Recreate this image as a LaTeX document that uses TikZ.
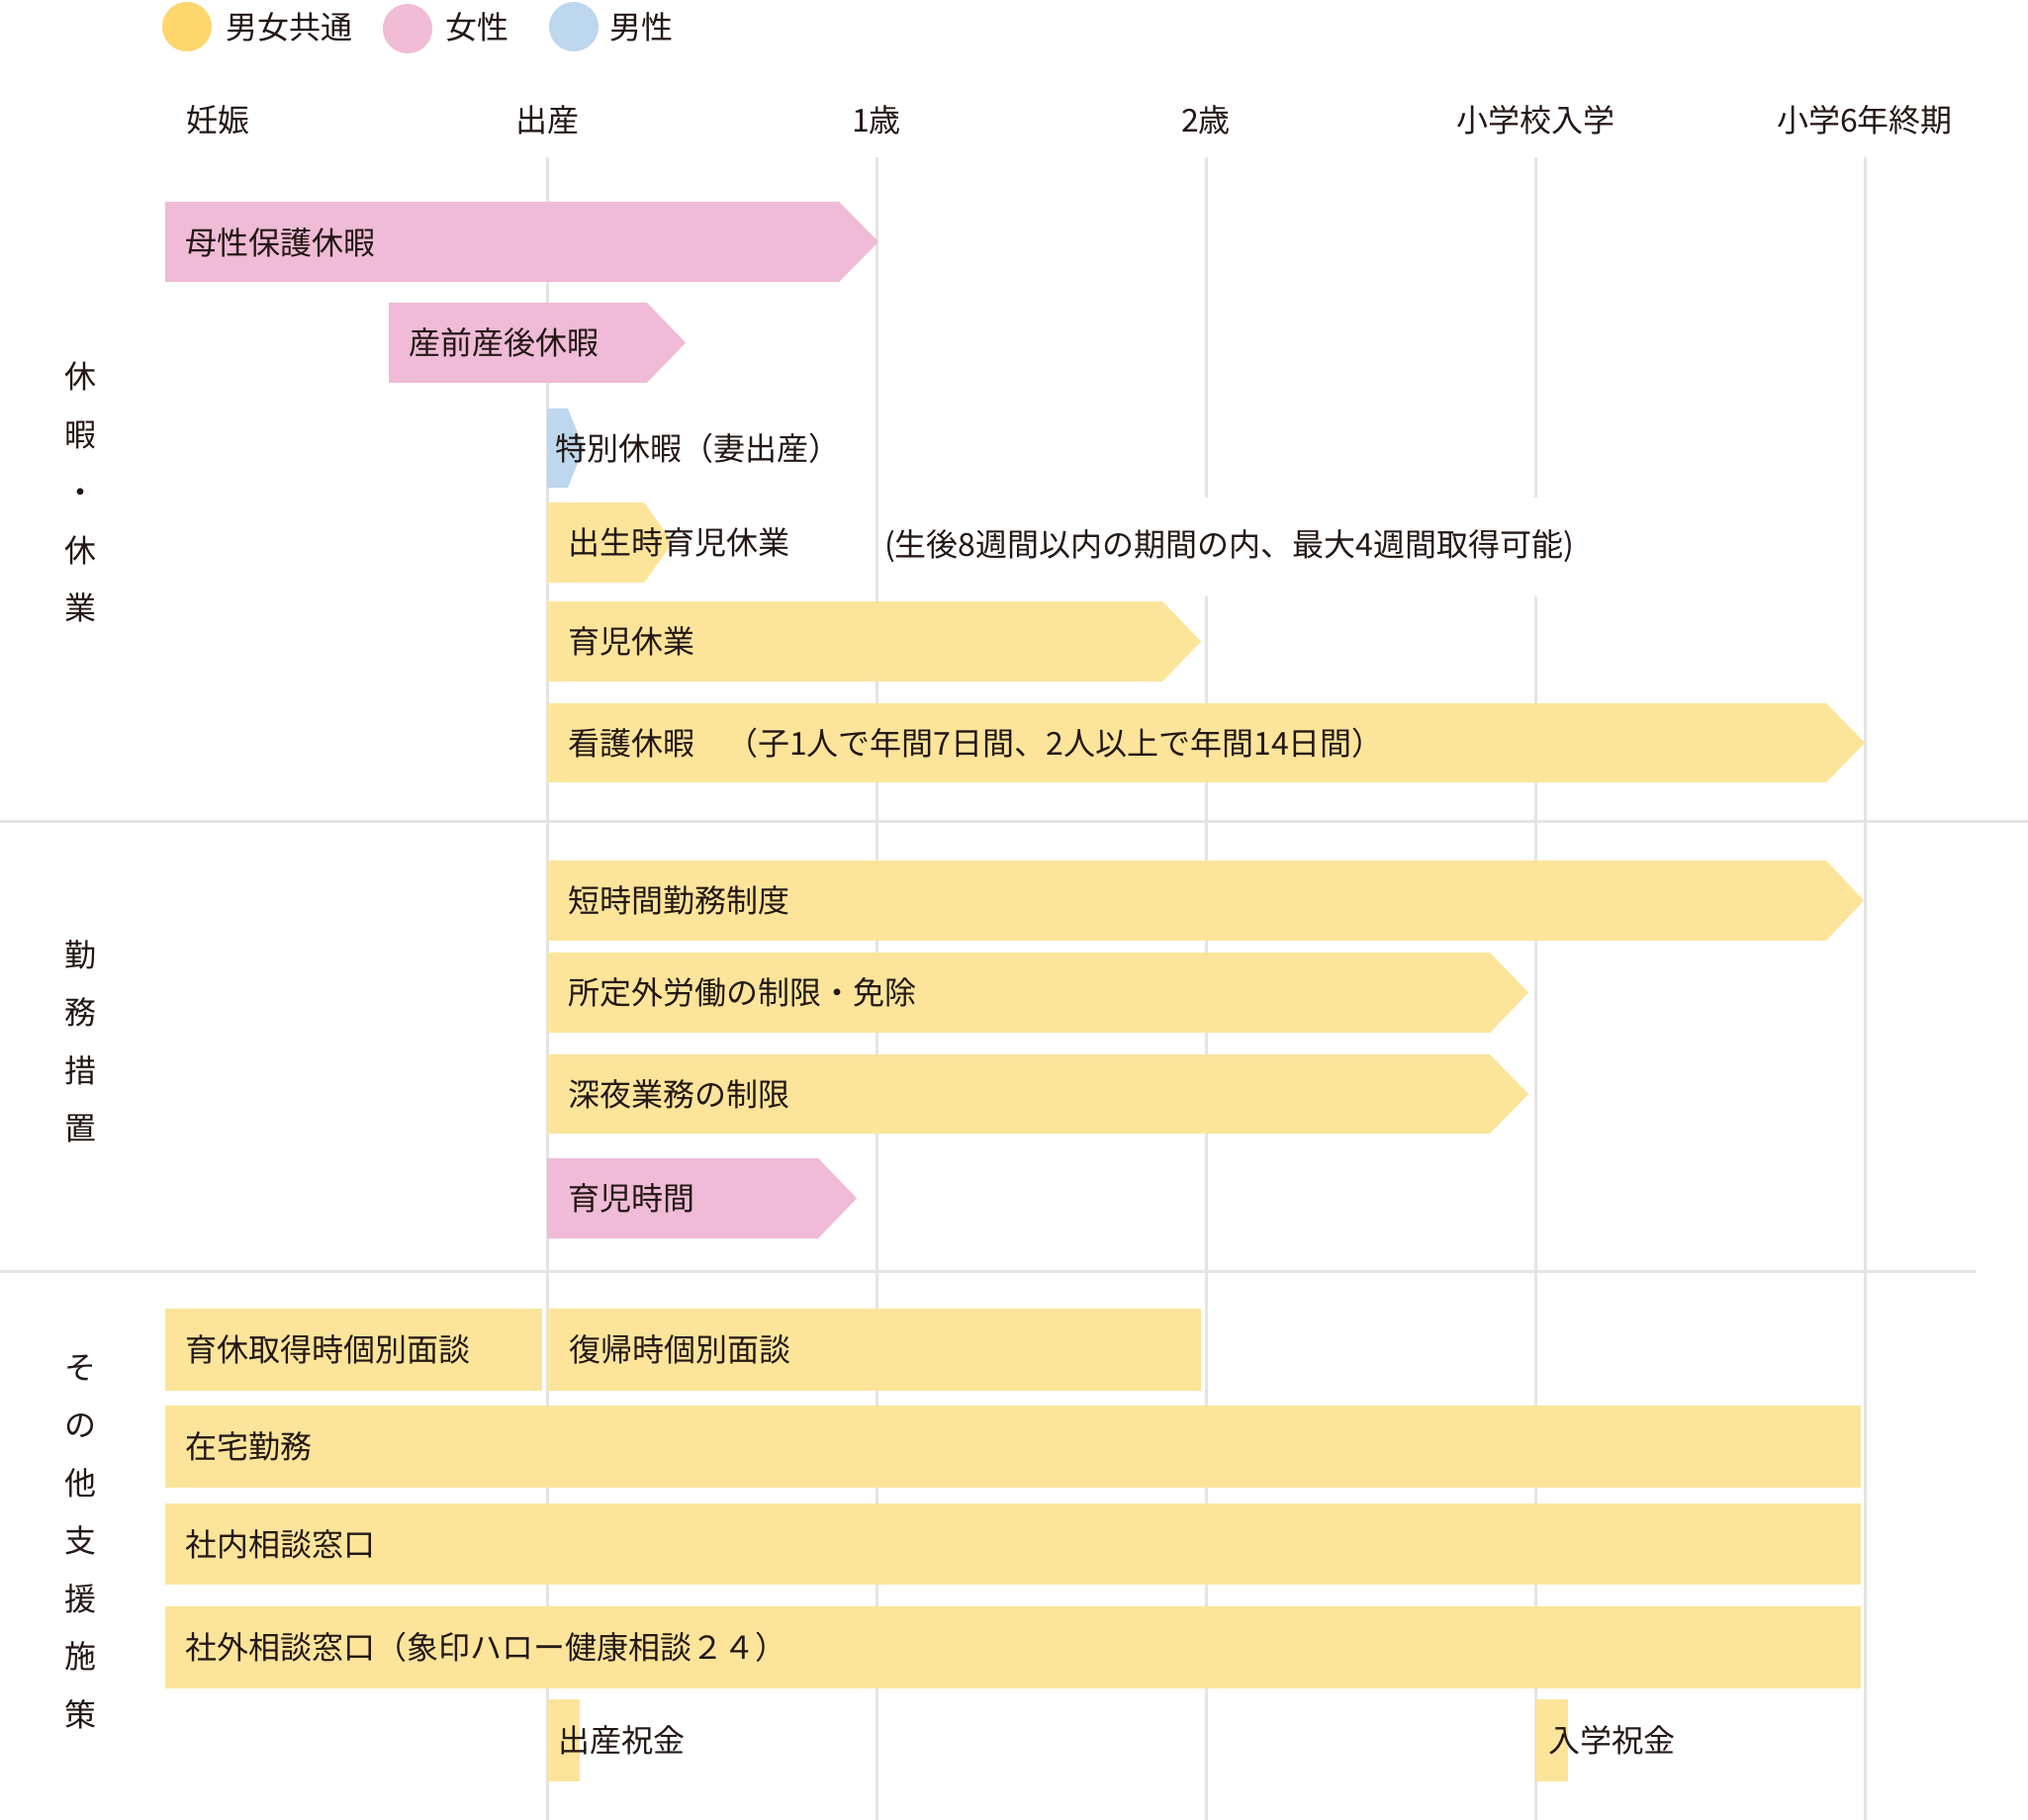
\documentclass[tikz,border=0pt]{standalone}
\usepackage{fontspec}
\setmainfont{Noto Sans CJK JP}
\definecolor{ink}{HTML}{231815}
\definecolor{gridgray}{HTML}{E4E4E4}
\definecolor{barY}{HTML}{FCE59A}
\definecolor{barP}{HTML}{EFBBD6}
\definecolor{barB}{HTML}{BDD7EE}
\definecolor{legY}{HTML}{FDD76E}
\definecolor{legP}{HTML}{F0BCD6}
\definecolor{legB}{HTML}{BDD7EE}
\newcommand\myarrowbar[6]{%
  \fill[#1] (#2,#3) -- (#5,#3) -- (#6,{(#3+#4)/2}) -- (#5,#4) -- (#2,#4) -- cycle;}
\begin{document}
\begin{tikzpicture}[x=0.5pt,y=-0.5pt,
  every node/.style={inner sep=0pt, outer sep=0pt, text=ink, font=\fontsize{16}{19}\selectfont},
  gridline/.style={draw=gridgray, line width=1.5pt},
  ybar/.style={fill=barY},
  pbar/.style={fill=barP},
  bbar/.style={fill=barB},
  lbl/.style={anchor=west},
  axislbl/.style={anchor=center},
  seclbl/.style={align=center, font=\fontsize{16}{29.25}\selectfont}]
\useasboundingbox (0,0) rectangle (2050,1840);
\fill[white] (0,0) rectangle (2050,1840);

% legend
\fill[legY] (189,27) circle (25);
\fill[legP] (412,29) circle (25);
\fill[legB] (580,27) circle (25);
\node[lbl] (lg1) at (228,27) {男女共通};
\node[lbl] (lg2) at (450,27) {女性};
\node[lbl] (lg3) at (616,27) {男性};

% axis labels
\node[axislbl] (a0) at (220,121) {妊娠};
\node[axislbl] (a1) at (553,121) {出産};
\node[axislbl] (a2) at (886,121) {1歳};
\node[axislbl] (a3) at (1219,121) {2歳};
\node[axislbl] (a4) at (1552,121) {小学校入学};
\node[axislbl] (a5) at (1885,121) {小学6年終期};

% grid lines
\foreach \gx in {553,886,1219,1552,1885}
  \draw[gridline] (\gx,159) -- (\gx,1840);
\draw[gridline] (0,830) -- (2050,830);
\draw[gridline] (0,1285) -- (1997,1285);

% section labels
\node[seclbl] (s1) at (81,497.5) {休\\暇\\・\\休\\業};
\node[seclbl] (s2) at (81,1053) {勤\\務\\措\\置};
\node[seclbl] (s3) at (81,1558.6) {そ\\の\\他\\支\\援\\施\\策};

% section 1
\myarrowbar{pbar}{167}{204}{285}{848}{888}
\node[lbl] (b1) at (187,245) {母性保護休暇};
\myarrowbar{pbar}{393}{306}{387}{654}{693}
\node[lbl] (b2) at (413,346) {産前産後休暇};
\myarrowbar{bbar}{553}{413}{493}{574}{590}
\node[lbl] (b3) at (561,453) {特別休暇（妻出産）};
\myarrowbar{ybar}{553}{508}{589}{651}{680}
\node[lbl] (b4) at (574,548) {出生時育児休業};
\fill[white] (890,503) rectangle (1610,603);
\node[lbl] (n4) at (894,552) {(生後8週間以内の期間の内、最大4週間取得可能)};
\myarrowbar{ybar}{553}{608}{689}{1175}{1214}
\node[lbl] (b5) at (574,648) {育児休業};
\myarrowbar{ybar}{553}{711}{791}{1846}{1885}
\node[lbl] (b6) at (574,751) {看護休暇　（子1人で年間7日間、2人以上で年間14日間）};

% section 2
\myarrowbar{ybar}{553}{870}{951}{1846}{1884}
\node[lbl] (c1) at (574,910) {短時間勤務制度};
\myarrowbar{ybar}{553}{963}{1044}{1506}{1545}
\node[lbl] (c2) at (574,1003) {所定外労働の制限・免除};
\myarrowbar{ybar}{553}{1066}{1146}{1506}{1545}
\node[lbl] (c3) at (574,1106) {深夜業務の制限};
\myarrowbar{pbar}{553}{1171}{1252}{827}{866}
\node[lbl] (c4) at (574,1211) {育児時間};

% section 3
\fill[barY] (167,1323) rectangle (548,1406);
\node[lbl] (d1) at (187,1364) {育休取得時個別面談};
\fill[barY] (553,1323) rectangle (1214,1406);
\node[lbl] (d2) at (575,1364) {復帰時個別面談};
\fill[barY] (167,1421) rectangle (1881,1504);
\node[lbl] (d3) at (187,1462) {在宅勤務};
\fill[barY] (167,1520) rectangle (1881,1602);
\node[lbl] (d4) at (187,1561) {社内相談窓口};
\fill[barY] (167,1624) rectangle (1881,1707);
\node[lbl] (d5) at (187,1665) {社外相談窓口（象印ハロー健康相談２４）};
\fill[barY] (553,1718) rectangle (586,1801);
\node[lbl] (d6) at (564,1759) {出産祝金};
\fill[barY] (1552,1718) rectangle (1585,1801);
\node[lbl] (d7) at (1565,1759) {入学祝金};
\end{tikzpicture}
\end{document}
